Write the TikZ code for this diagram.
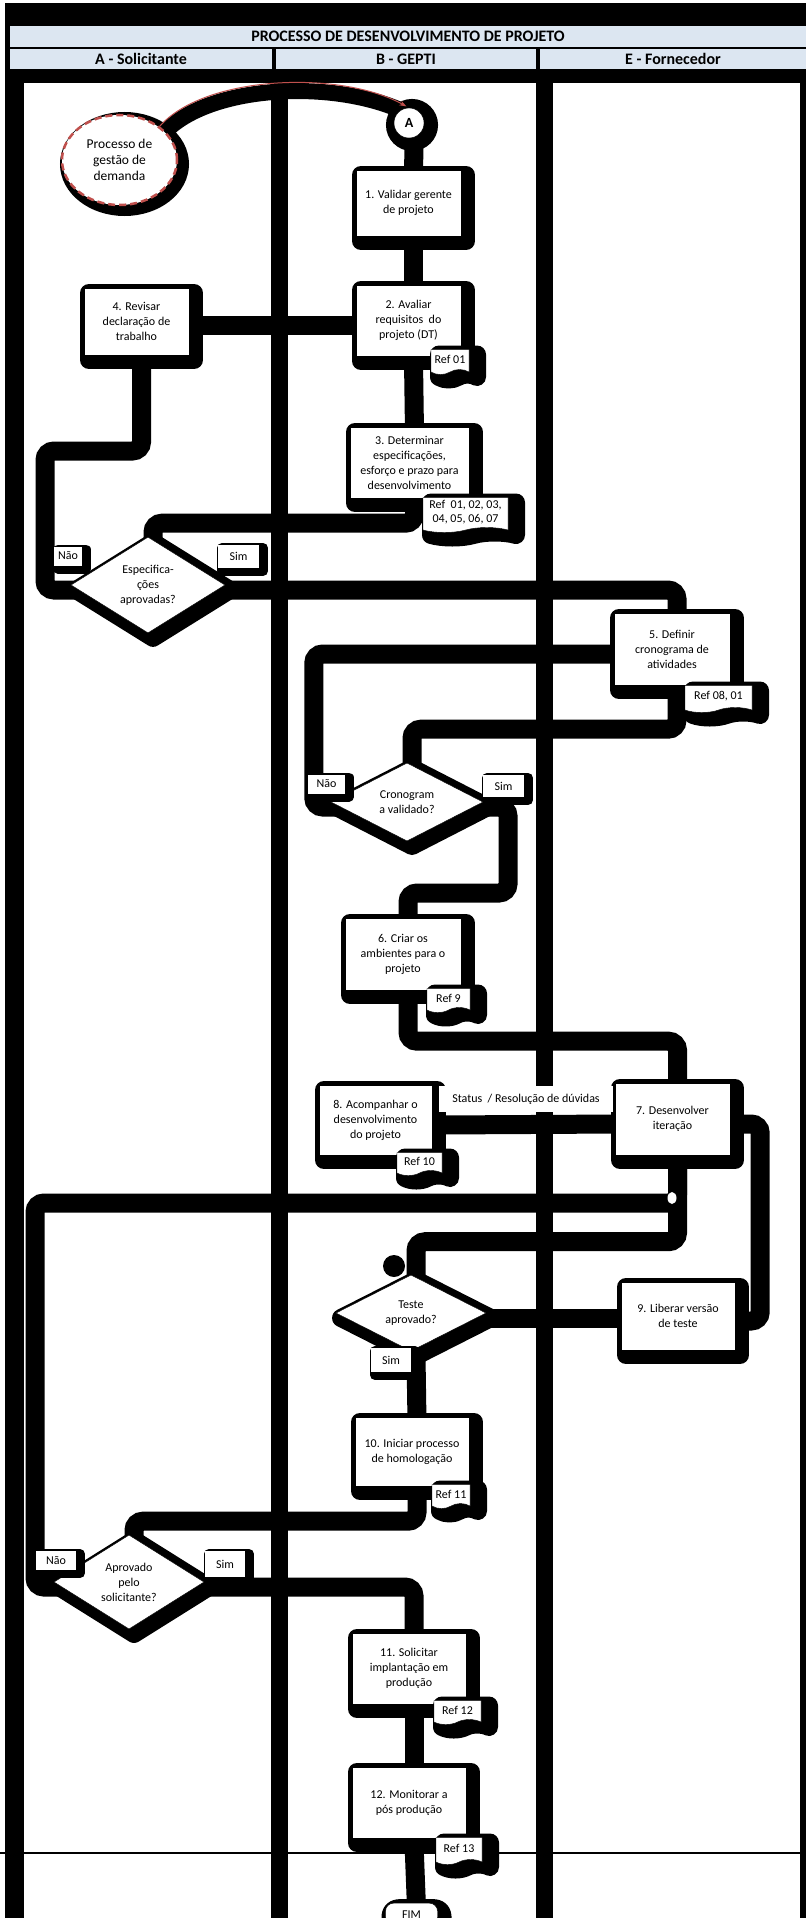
\documentclass[tikz,border=0pt]{standalone}
\usepackage{fontspec}
\setmainfont{Carlito}
\usetikzlibrary{shapes.geometric,shapes.symbols,arrows.meta,calc}
\definecolor{hdr}{RGB}{220,230,241}
\definecolor{dred}{RGB}{192,80,77}
\pgfdeclarelayer{lanes}
\pgfdeclarelayer{bg}
\pgfsetlayers{lanes,bg,main}
\tikzset{
  shad/.style={preaction={fill=black,draw=black,solid,line width=18pt,line join=round,transform canvas={shift={(5pt,-5pt)}}}},
  lshad/.style={preaction={fill=black,draw=black,line width=10pt,line join=round,transform canvas={shift={(4pt,-3pt)}}}},
  tshad/.style={preaction={fill=black,draw=black,line width=18pt,line join=round,transform canvas={shift={(8pt,-5pt)}}}},
  txt/.style={font=\fontsize{12}{15}\selectfont},
  box/.style={shad, rectangle, fill=white, draw=black, line width=0.4pt, align=center, inner sep=2pt, txt},
  dec/.style={shad, diamond, fill=white, draw=black, line width=0.4pt, align=center, inner sep=0pt, txt},
  lab/.style={lshad, rectangle, fill=white, draw=none, inner sep=1pt, txt},
  reftag/.style={tshad, tape, tape bend top=none, tape bend bottom=in and out, tape bend height=5pt, fill=white, draw=black, line width=0.4pt, align=center, inner sep=1pt, font=\fontsize{12}{14}\selectfont},
  conn/.style={draw=black, line width=19pt, rounded corners=9pt, transform canvas={shift={(5pt,-5pt)}}},
  hdrcell/.style={fill=hdr, draw=none, font=\fontsize{16}{18}\selectfont\bfseries, inner sep=0pt},
}
\begin{document}
\begin{tikzpicture}[x=1pt,y=-1pt]
\useasboundingbox (0,0) rectangle (806,1918);
\begin{pgfonlayer}{lanes}
\fill[white] (0,0) rectangle (806,1918);
\fill[black] (5,3) rectangle (806,1918);
\node[hdrcell, minimum width=796pt, minimum height=21pt] (title) at (408,36.5) {PROCESSO DE DESENVOLVIMENTO DE PROJETO};
\node[hdrcell, minimum width=262pt, minimum height=20pt] (hA) at (141,59) {A - Solicitante};
\node[hdrcell, minimum width=260pt, minimum height=20pt] (hB) at (406,59) {B - GEPTI};
\node[hdrcell, minimum width=266pt, minimum height=20pt] (hC) at (673,59) {E - Fornecedor};
\fill[white] (24,83) rectangle (271,1918);
\fill[white] (288,83) rectangle (536,1918);
\fill[white] (553,83) rectangle (800,1918);
\draw[black, line width=1.2pt] (0,1853) -- (806,1853);
\end{pgfonlayer}

% start nodes
\node[ellipse, fill=white, draw=dred, line width=2.5pt, dash pattern=on 7pt off 4pt, minimum width=115pt, minimum height=90pt, inner sep=0pt, align=center, font=\fontsize{13.5}{16}\selectfont, preaction={fill=black, draw=black, solid, line width=14pt, transform canvas={shift={(5pt,-4pt)}}}] (pg) at (119.5,160) {Processo de\\gestão de\\demanda};
\node[circle, fill=white, draw=black, line width=0.4pt, minimum size=30pt, inner sep=0pt, font=\fontsize{14}{16}\selectfont\bfseries, preaction={fill=black,draw=black,line width=22pt,transform canvas={shift={(3pt,-2pt)}}}] (A) at (409,123) {A};

% process boxes
\node[box, minimum width=105pt, minimum height=66pt] (b1) at (408.5,203) {1. Validar gerente\\de projeto};
\node[box, minimum width=105pt, minimum height=71pt] (b2) at (408.5,320.5) {2. Avaliar\\requisitos\ \ do\\projeto (DT)};
\node[reftag, minimum width=38pt, minimum height=25pt] (r1) at (450,359.5) {Ref 01};
\node[box, minimum width=105pt, minimum height=67pt] (b4) at (136.5,321.5) {4. Revisar\\declaração de\\trabalho};
\node[box, minimum width=119pt, minimum height=71pt] (b3) at (409.5,462.5) {3. Determinar\\especificações,\\esforço e prazo para\\desenvolvimento};
\node[reftag, minimum width=85pt, minimum height=35pt] (r3) at (465.5,512.5) {Ref\ \ 01, 02, 03,\\04, 05, 06, 07};
\node[dec, minimum width=154pt, minimum height=94pt] (d1) at (148,585) {Especifica-\\ções\\aprovadas?};
\node[lab, minimum width=28pt, minimum height=19pt] (n1) at (68,556) {Não};
\node[lab, minimum width=41pt, minimum height=23pt] (s1) at (238.5,556.5) {Sim};
\node[box, minimum width=116pt, minimum height=72pt] (b5) at (672,649) {5. Definir\\cronograma de\\atividades};
\node[reftag, minimum width=67pt, minimum height=27pt] (r5) at (718.5,696.5) {Ref 08, 01};
\node[dec, minimum width=152pt, minimum height=72pt] (d2) at (407,802) {Cronogram\\a validado?};
\node[lab, minimum width=37pt, minimum height=19pt] (n2) at (326.5,784) {Não};
\node[lab, minimum width=41pt, minimum height=22pt] (s2) at (503.5,786) {Sim};
\node[box, minimum width=116pt, minimum height=72pt] (b6) at (403,954) {6. Criar os\\ambientes para o\\projeto};
\node[reftag, minimum width=43pt, minimum height=24pt] (r6) at (448.5,998) {Ref 9};
\node[box, minimum width=113pt, minimum height=70pt] (b8) at (375.5,1120) {8. Acompanhar o\\desenvolvimento\\do projeto};
\node[reftag, minimum width=45pt, minimum height=23pt] (r8) at (419.5,1161.5) {Ref 10};
\node[box, minimum width=115pt, minimum height=72pt] (b7) at (672.5,1119) {7. Desenvolver\\iteração};
\node[rectangle, fill=white, draw=none, minimum width=174pt, minimum height=26pt, inner sep=1pt, txt] (st) at (526,1099) {Status\ \ / Resolução de dúvidas};
\node[dec, minimum width=150pt, minimum height=72pt] (d3) at (411,1313) {Teste\\aprovado?};
\node[lab, minimum width=40pt, minimum height=24pt] (s3) at (391,1360) {Sim};
\node[box, minimum width=114pt, minimum height=68pt] (b9) at (678,1316) {9. Liberar versão\\de teste};
\node[box, minimum width=114pt, minimum height=69pt] (b10) at (412,1451.5) {10. Iniciar processo\\de homologação};
\node[reftag, minimum width=38pt, minimum height=24pt] (r10) at (451,1494) {Ref 11};
\node[dec, minimum width=150pt, minimum height=74pt] (d4) at (129,1582) {Aprovado\\pelo\\solicitante?};
\node[lab, minimum width=40pt, minimum height=19pt] (n4) at (56,1560.5) {Não};
\node[lab, minimum width=40pt, minimum height=26pt] (s4) at (225,1564) {Sim};
\node[box, minimum width=114pt, minimum height=71pt] (b11) at (409,1668.5) {11. Solicitar\\implantação em\\produção};
\node[reftag, minimum width=47pt, minimum height=24pt] (r11) at (457.5,1710) {Ref 12};
\node[box, minimum width=114pt, minimum height=71pt] (b12) at (409,1802.5) {12. Monitorar a\\pós produção};
\node[reftag, minimum width=46pt, minimum height=27pt] (r12) at (459,1848.5) {Ref 13};
\node[box, rounded corners=8pt, minimum width=52pt, minimum height=22pt, anchor=north] (fim) at (411.5,1903) {FIM};

% connectors
\begin{pgfonlayer}{bg}
\draw[black, line width=16pt, transform canvas={shift={(3pt,-8pt)}}] (pg.40) .. controls (205,75) and (340,70) .. (A.north);
\draw[conn] (A.south) -- (b1.north);
\draw[conn] (b1.south) -- (b2.north);
\draw[conn] (b2.west) -- (b4.east |- b2.west);
\draw[conn] (b2.south) -- (b3.north);
\draw[conn] (b3.south) -- ++(0,20) -| (d1.north);
\draw[conn] (d1.west) -| (40,446) -| (b4.south);
\draw[conn] (d1.east) -| (b5.north);
\draw[conn] (b5.south) -- ++(0,39) -| (d2.north);
\draw[conn] (d2.west) -- ++(-22,0) |- (b5.west);
\draw[conn] (d2.east) -| (503,888) -| (b6.north);
\draw[conn] (b6.south) -- ++(0,46) -| (b7.north);
\draw[conn] (b8.east) -- (b7.west);
\draw[conn] (b7.east) -- ++(25,0) |- (b9.east);
\draw[conn] (b9.west |- d3.east) -- (d3.east);
\draw[conn] (d3.north) -- ++(0,-38) -| (b7.south);
\draw[conn] (d3.south) -- (b10.north);
\draw[conn] (b10.south) -- ++(0,30) -| (d4.north);
\draw[conn] (d4.east) -| (b11.north);
\draw[conn] (d4.west) -| (30,1198) -| (b7.south);
\draw[conn] (b11.south) -- (b12.north);
\draw[conn] (b12.south) -- (fim.north);
\fill[black] (394,1266) circle (11pt);
\fill[white] (672,1198) ellipse [x radius=4.5pt, y radius=6pt];
\end{pgfonlayer}

\draw[dred, line width=1pt, shorten >=3pt, -{Stealth[length=7pt,width=5pt]}] (pg.40) .. controls (205,75) and (340,70) .. (A.north);
\end{tikzpicture}
\end{document}
